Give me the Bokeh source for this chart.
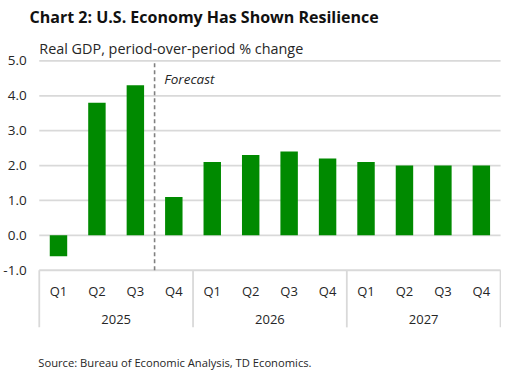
from bokeh.plotting import figure
from bokeh.models import Range1d
from bokeh.core.properties import value
from bokeh.embed import file_html
from bokeh.resources import INLINE

# ---- data ----
years = ["2025", "2026", "2027"]
quarters = ["Q1", "Q2", "Q3", "Q4"]
gdp = [-0.6, 3.8, 4.3, 1.1, 2.1, 2.3, 2.4, 2.2, 2.1, 2.0, 2.0, 2.0]
y_ticks = [-1, 0, 1, 2, 3, 4, 5]
forecast_start = 3  # index of first forecast quarter (2025 Q4)

title = "Chart 2: U.S. Economy Has Shown Resilience"
subtitle = "Real GDP, period-over-period % change"
source = "Source: Bureau of Economic Analysis, TD Economics."

# ---- layout helpers (reference-picture pixel -> data units) ----
W, H = 501, 370          # canvas; the 517x386 layout is scaled into it
REF_W, REF_H = 517, 386
X0, CW = 40, 39.67       # x of plot left edge, width of one category
Y0, UH = 245, 36.4       # y of zero line, pixels per unit
def dx(px):
    return (px - X0) / CW
def dy(py):
    return (Y0 - py) / UH

FONT = "Open Sans"
GRID = "#d9d9d9"
TXT = "#262626"

p = figure(width=W, height=H, x_range=Range1d(dx(0), dx(REF_W)),
           y_range=Range1d(dy(REF_H), dy(0)), output_backend="svg",
           toolbar_location=None, x_axis_location=None, y_axis_location=None,
           min_border=0, tools="")
p.grid.visible = False
p.outline_line_color = None

n = len(gdp)
xs = [i + 0.5 for i in range(n)]
qlabels = [quarters[i % 4] for i in range(n)]

# gridlines
p.segment(x0=[0] * len(y_ticks), x1=[n] * len(y_ticks), y0=y_ticks, y1=y_ticks,
          line_color=GRID, line_width=1.8)
# y tick labels
p.text(x=[dx(27)] * len(y_ticks), y=y_ticks, text=[f"{t:.1f}" for t in y_ticks],
       text_font=value(FONT), text_font_size="13.5px", text_color=TXT,
       text_align="right", text_baseline="middle")

# bars
p.vbar(x=xs, top=gdp, bottom=0, width=18 / CW, fill_color="#008a00", line_color=None)

# group separators
seps = [i * 4 for i in range(len(years) + 1)]
p.segment(x0=seps, x1=seps, y0=[y_ticks[0]] * len(seps), y1=[dy(341)] * len(seps),
          line_color=GRID, line_width=1.8)

# quarter labels
p.text(x=xs, y=[dy(303)] * n, text=qlabels, text_font=value(FONT),
       text_font_size="13px", text_color=TXT, text_align="center",
       text_baseline="middle")
# year labels
p.text(x=[i * 4 + 2 for i in range(len(years))], y=[dy(333)] * len(years), text=years,
       text_font=value(FONT), text_font_size="13px", text_color=TXT,
       text_align="center", text_baseline="middle")

# forecast divider
p.segment(x0=[forecast_start], x1=[forecast_start], y0=[y_ticks[0]], y1=[y_ticks[-1]],
          line_color="#808080", line_width=1.6, line_dash="4 3")
p.text(x=[forecast_start + dx(169) - dx(159)], y=[dy(82)], text=["Forecast"],
       text_font=value(FONT), text_font_size="13.5px", text_font_style="italic",
       text_color=TXT, text_align="left", text_baseline="middle")

# title, subtitle, source
p.text(x=[dx(30)], y=[dy(17)], text=[title], text_font=value(FONT),
       text_font_size="16px", text_font_style="bold", text_color="#111111",
       text_align="left", text_baseline="middle")
p.text(x=[dx(40)], y=[dy(50)], text=[subtitle], text_font=value(FONT),
       text_font_size="14.4px", text_color=TXT, text_align="left", text_baseline="middle")
p.text(x=[dx(39)], y=[dy(378)], text=[source], text_font=value(FONT),
       text_font_size="11.2px", text_color=TXT, text_align="left", text_baseline="middle")

open("out.html", "w").write(file_html(p, INLINE))
